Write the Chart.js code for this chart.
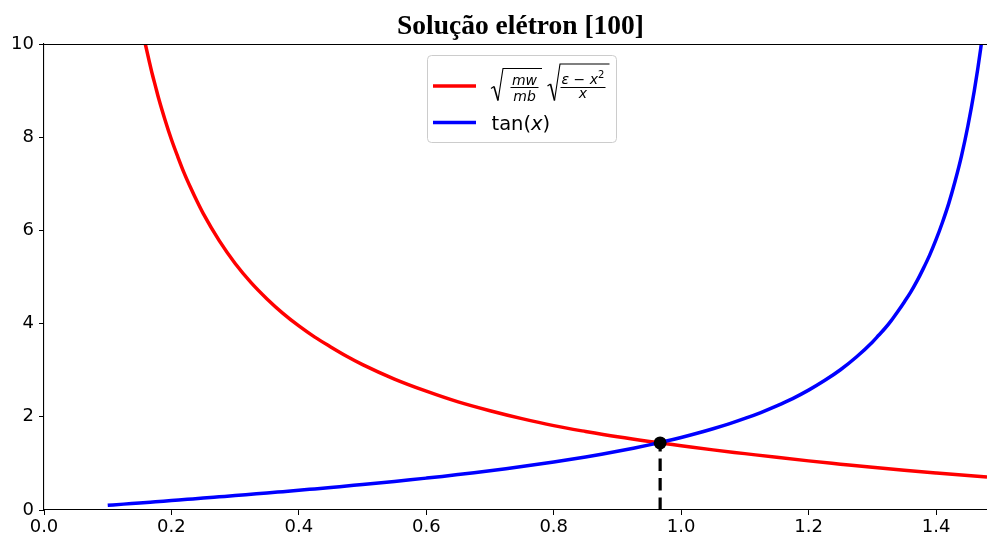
<!DOCTYPE html>
<html>
<head>
<meta charset="utf-8">
<script src="https://cdn.jsdelivr.net/npm/chart.js@4/dist/chart.umd.min.js"></script>
<style>
  html, body { margin: 0; padding: 0; background: #ffffff; overflow: hidden; }
  #wrap { width: 987px; height: 538px; }
</style>
</head>
<body>
<div id="wrap"><canvas id="c" width="987" height="538"></canvas></div>
<script>
// Right-hand side of the transcendental equation (red curve)
const redX = [0.159, 0.165, 0.17, 0.175, 0.18, 0.19, 0.20, 0.21, 0.22, 0.23, 0.24, 0.25, 0.275, 0.30, 0.325, 0.35, 0.375, 0.40, 0.425, 0.45, 0.475, 0.50, 0.55, 0.60, 0.65, 0.70, 0.75, 0.80, 0.85, 0.90, 0.95, 0.967, 1.00, 1.05, 1.10, 1.15, 1.20, 1.25, 1.30, 1.35, 1.40, 1.45, 1.48];
const redY = [10.0, 9.64, 9.35, 9.09, 8.83, 8.37, 7.95, 7.58, 7.23, 6.92, 6.63, 6.36, 5.78, 5.29, 4.88, 4.53, 4.22, 3.95, 3.71, 3.50, 3.30, 3.12, 2.81, 2.55, 2.32, 2.13, 1.96, 1.81, 1.685, 1.57, 1.47, 1.44, 1.38, 1.29, 1.21, 1.13, 1.054, 0.984, 0.915, 0.852, 0.793, 0.738, 0.71];

// tan(x) (blue curve)
const blueX = [0.100, 0.125, 0.150, 0.175, 0.200, 0.225, 0.250, 0.275, 0.300, 0.325, 0.350, 0.375, 0.400, 0.425, 0.450, 0.475, 0.500, 0.525, 0.550, 0.575, 0.600, 0.625, 0.650, 0.675, 0.700, 0.725, 0.750, 0.775, 0.800, 0.825, 0.850, 0.875, 0.900, 0.925, 0.950, 0.975, 1.000, 1.025, 1.050, 1.075, 1.100, 1.125, 1.150, 1.175, 1.200, 1.225, 1.250, 1.275, 1.300, 1.31, 1.32, 1.33, 1.34, 1.35, 1.36, 1.37, 1.38, 1.39, 1.40, 1.41, 1.42, 1.43, 1.44, 1.45, 1.46, 1.47, 1.48];
const blueY = [0.100, 0.126, 0.151, 0.177, 0.203, 0.229, 0.255, 0.282, 0.309, 0.337, 0.365, 0.394, 0.423, 0.453, 0.483, 0.515, 0.546, 0.579, 0.613, 0.648, 0.684, 0.721, 0.760, 0.800, 0.842, 0.886, 0.932, 0.980, 1.030, 1.083, 1.139, 1.198, 1.260, 1.326, 1.398, 1.474, 1.557, 1.646, 1.743, 1.848, 1.965, 2.092, 2.234, 2.391, 2.572, 2.777, 3.010, 3.284, 3.602, 3.75, 3.90, 4.07, 4.26, 4.46, 4.67, 4.91, 5.18, 5.47, 5.80, 6.17, 6.58, 7.06, 7.60, 8.24, 8.99, 9.89, 10.99];

// Intersection (solution)
const rootX = 0.967;
const rootY = 1.44;

// Axis ticks
const xTicks = [0.0, 0.2, 0.4, 0.6, 0.8, 1.0, 1.2, 1.4];
const yTicks = [0, 2, 4, 6, 8, 10];
const xMin = 0, xMax = 1.48, yMin = 0, yMax = 10;

const titleText = 'Solução elétron [100]';
const redLabel = '√(mw/mb)·√((ε − x²)/x)';
const blueLabel = 'tan(x)';

const toPts = (xs, ys) => xs.map((x, i) => ({ x: x, y: ys[i] }));

Chart.defaults.font.family = '"DejaVu Sans", sans-serif';
Chart.defaults.color = '#000000';

// Title centred over the axes box
const titlePlugin = {
  id: 'serifTitle',
  afterDraw(chart) {
    const ctx = chart.ctx;
    ctx.save();
    ctx.font = 'bold 27.5px "Liberation Serif", "Times New Roman", serif';
    ctx.fillStyle = '#000';
    ctx.textAlign = 'center';
    ctx.textBaseline = 'alphabetic';
    ctx.fillText(titleText, 520.5, 33.5);
    ctx.restore();
  }
};

// Top spine
const spinePlugin = {
  id: 'topSpine',
  afterDraw(chart) {
    const a = chart.chartArea, ctx = chart.ctx;
    ctx.save();
    ctx.strokeStyle = '#000';
    ctx.lineWidth = 1.1;
    ctx.beginPath();
    ctx.moveTo(a.left, a.top + 0.5);
    ctx.lineTo(a.right, a.top + 0.5);
    ctx.stroke();
    ctx.restore();
  }
};

// Legend with the typeset formula
const legendPlugin = {
  id: 'mathLegend',
  afterDraw(chart) {
    const ctx = chart.ctx;
    const ds = chart.data.datasets;
    ctx.save();

    // frame
    const bx = 427.5, by = 55.5, bw = 189, bh = 87, r = 4;
    ctx.beginPath();
    ctx.moveTo(bx + r, by);
    ctx.lineTo(bx + bw - r, by);
    ctx.arcTo(bx + bw, by, bx + bw, by + r, r);
    ctx.lineTo(bx + bw, by + bh - r);
    ctx.arcTo(bx + bw, by + bh, bx + bw - r, by + bh, r);
    ctx.lineTo(bx + r, by + bh);
    ctx.arcTo(bx, by + bh, bx, by + bh - r, r);
    ctx.lineTo(bx, by + r);
    ctx.arcTo(bx, by, bx + r, by, r);
    ctx.closePath();
    ctx.fillStyle = 'rgba(255,255,255,0.8)';
    ctx.fill();
    ctx.strokeStyle = '#cccccc';
    ctx.lineWidth = 1;
    ctx.stroke();

    // handles
    ctx.lineWidth = 3.5;
    ctx.lineCap = 'butt';
    ctx.strokeStyle = ds[0].borderColor;
    ctx.beginPath(); ctx.moveTo(433, 86); ctx.lineTo(476, 86); ctx.stroke();
    ctx.strokeStyle = ds[1].borderColor;
    ctx.beginPath(); ctx.moveTo(433, 122.5); ctx.lineTo(476, 122.5); ctx.stroke();

    // formula: sqrt(mw/mb) sqrt((eps - x^2)/x)
    ctx.strokeStyle = '#000';
    ctx.fillStyle = '#000';
    ctx.lineJoin = 'miter';
    ctx.lineWidth = 1.1;
    ctx.beginPath();
    ctx.moveTo(491, 88.5); ctx.lineTo(494, 86.5);
    ctx.stroke();
    ctx.lineWidth = 1.6;
    ctx.beginPath();
    ctx.moveTo(494, 86.5); ctx.lineTo(498, 100.5);
    ctx.stroke();
    ctx.lineWidth = 1.1;
    ctx.beginPath();
    ctx.moveTo(498, 100.5); ctx.lineTo(503, 68.5); ctx.lineTo(542, 68.5);
    ctx.stroke();

    ctx.beginPath();
    ctx.moveTo(547.5, 86); ctx.lineTo(550.5, 84);
    ctx.stroke();
    ctx.lineWidth = 1.6;
    ctx.beginPath();
    ctx.moveTo(550.5, 84); ctx.lineTo(554.5, 100.5);
    ctx.stroke();
    ctx.lineWidth = 1.1;
    ctx.beginPath();
    ctx.moveTo(554.5, 100.5); ctx.lineTo(560, 64); ctx.lineTo(609.5, 64);
    ctx.stroke();

    // fraction bars
    ctx.lineWidth = 1;
    ctx.beginPath(); ctx.moveTo(510.5, 87.5); ctx.lineTo(538.5, 87.5); ctx.stroke();
    ctx.beginPath(); ctx.moveTo(560.5, 87.5); ctx.lineTo(605.5, 87.5); ctx.stroke();

    const it = 'italic 14px "DejaVu Sans", sans-serif';
    const up = '14px "DejaVu Sans", sans-serif';
    ctx.textBaseline = 'alphabetic';
    ctx.textAlign = 'center';
    ctx.font = it;
    ctx.fillText('mw', 524.5, 85);
    ctx.fillText('mb', 524.5, 100.5);
    ctx.fillText('x', 583, 98);

    // numerator ε − x²
    ctx.textAlign = 'left';
    const parts = [
      { t: 'ε', f: it, dy: 0 },
      { t: ' − ', f: up, dy: 0 },
      { t: 'x', f: it, dy: 0 },
      { t: '2', f: '10px "DejaVu Sans", sans-serif', dy: -6 }
    ];
    let total = 0;
    parts.forEach(p => { ctx.font = p.f; p.w = ctx.measureText(p.t).width; total += p.w; });
    let px = 583 - total / 2;
    parts.forEach(p => { ctx.font = p.f; ctx.fillText(p.t, px, 83.5 + p.dy); px += p.w; });

    // tan(x)
    const big = '19.5px "DejaVu Sans", sans-serif';
    const bigIt = 'italic 19.5px "DejaVu Sans", sans-serif';
    let tx = 491.5;
    [['tan(', big], ['x', bigIt], [')', big]].forEach(([t, f]) => {
      ctx.font = f; ctx.fillText(t, tx, 130); tx += ctx.measureText(t).width;
    });

    ctx.restore();
  }
};

const tickFont = { family: '"DejaVu Sans", sans-serif', size: 18 };

new Chart(document.getElementById('c'), {
  type: 'line',
  data: {
    datasets: [
      {
        label: redLabel,
        data: toPts(redX, redY),
        borderColor: '#ff0000',
        borderWidth: 3.5,
        pointRadius: 0,
        cubicInterpolationMode: 'monotone',
        fill: false,
        clip: 0,
        order: 3
      },
      {
        label: blueLabel,
        data: toPts(blueX, blueY),
        borderColor: '#0000ff',
        borderWidth: 3.5,
        pointRadius: 0,
        cubicInterpolationMode: 'monotone',
        fill: false,
        clip: 0,
        order: 2
      },
      {
        label: 'raiz',
        data: [{ x: rootX, y: 0 }, { x: rootX, y: rootY }],
        borderColor: '#000000',
        borderWidth: 3.2,
        borderDash: [12.5, 7],
        pointRadius: 0,
        fill: false,
        clip: 0,
        order: 1
      },
      {
        type: 'scatter',
        label: 'solução',
        data: [{ x: rootX, y: rootY }],
        backgroundColor: '#000000',
        borderColor: '#000000',
        pointRadius: 6.5,
        pointBorderWidth: 0,
        showLine: false,
        order: 0
      }
    ]
  },
  options: {
    responsive: false,
    devicePixelRatio: 1,
    animation: false,
    events: [],
    layout: { autoPadding: false, padding: { top: 44, left: 0, right: 0, bottom: 0 } },
    plugins: {
      legend: { display: false },
      title: { display: false },
      tooltip: { enabled: false }
    },
    scales: {
      x: {
        type: 'linear',
        min: xMin,
        max: xMax,
        afterBuildTicks: s => { s.ticks = xTicks.map(v => ({ value: v })); },
        afterFit: s => { s.height = 28; s.paddingLeft = 0; s.paddingRight = 0; },
        ticks: {
          font: tickFont,
          color: '#000',
          padding: 2,
          maxRotation: 0,
          autoSkip: false,
          callback: v => Number(v).toFixed(1)
        },
        grid: { display: true, drawOnChartArea: false, drawTicks: true, tickLength: 5, color: '#000', lineWidth: 1 },
        border: { display: true, color: '#000', width: 1.1 }
      },
      y: {
        type: 'linear',
        min: yMin,
        max: yMax,
        afterBuildTicks: s => { s.ticks = yTicks.map(v => ({ value: v })); },
        afterFit: s => { s.width = 44; s.paddingTop = 0; s.paddingBottom = 0; },
        ticks: {
          font: tickFont,
          color: '#000',
          padding: 5,
          autoSkip: false,
          callback: v => String(v)
        },
        grid: { display: true, drawOnChartArea: false, drawTicks: true, tickLength: 5, color: '#000', lineWidth: 1 },
        border: { display: true, color: '#000', width: 1.1 }
      }
    }
  },
  plugins: [spinePlugin, titlePlugin, legendPlugin]
});
</script>
</body>
</html>
